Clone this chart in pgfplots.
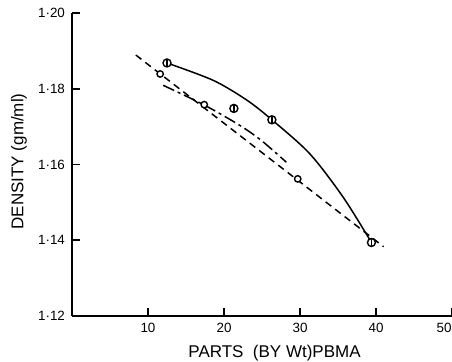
\documentclass[border=0pt]{standalone}
\usepackage{fontspec}
\setmainfont{Liberation Sans}
\usepackage{pgfplots}
\pgfplotsset{compat=1.18}
\usetikzlibrary{calc}
\pgfdeclareplotmark{theta}{%
  \pgfpathcircle{\pgfpointorigin}{\pgfplotmarksize}%
  \pgfusepathqfillstroke
  \pgfpathmoveto{\pgfqpoint{0pt}{-\pgfplotmarksize}}%
  \pgfpathlineto{\pgfqpoint{0pt}{\pgfplotmarksize}}%
  \pgfusepathqstroke}
\begin{document}
\begin{tikzpicture}
\begin{axis}[
  name=ax,
  scale only axis,
  width=190pt, height=151.5pt,
  xmin=0, xmax=50, ymin=1.12, ymax=1.20,
  axis x line*=bottom, axis y line*=left,
  axis line style={line width=1.1pt},
  xtick={10,20,30,40,50},
  xticklabels={10,20,30,40,\hspace*{-8pt}50},
  ytick={1.12,1.14,1.16,1.18,1.20},
  yticklabels={1{\textperiodcentered}12,1{\textperiodcentered}14,1{\textperiodcentered}16,1{\textperiodcentered}18,1{\textperiodcentered}20},
  tick align=inside,
  major tick length=4pt,
  tick style={line width=0.8pt, black},
  minor tick num=0,
  tick label style={font=\fontsize{6.7}{7}\selectfont},
  xlabel={PARTS\ \ (BY Wt)PBMA},
  ylabel={DENSITY (gm/ml)},
  label style={font=\fontsize{8.5}{9}\selectfont},
  xlabel style={at={(axis description cs:0.533,0)}, anchor=center, yshift=-18.5pt},
  ylabel style={at={(axis description cs:-0.1395,0.51)}, anchor=center},
  clip=false,
]
\addplot[black, line width=0.75pt, smooth] coordinates {
  (12.5,1.1868) (18.6,1.1822) (23.0,1.1770) (26.3,1.1718) (31.3,1.1628) (35.7,1.1513) (39.4,1.1394)
};
\addplot[black, line width=0.75pt, dash pattern=on 3.5pt off 2.5pt] coordinates {
  (8.4,1.1889) (41.0,1.1383)
};
\addplot[black, line width=0.75pt, smooth, dash pattern=on 6pt off 2pt on 1.5pt off 2pt] coordinates {
  (12.0,1.1809) (17.4,1.1757) (22.1,1.1703) (25.0,1.1662) (28.2,1.1606)
};
\addplot[only marks, mark=theta, mark size=2pt, mark options={fill=white, draw=black, line width=0.7pt}] coordinates {
  (12.5,1.1868) (21.3,1.1748) (26.3,1.1718) (39.4,1.1394)
};
\addplot[only marks, mark=*, mark size=1.6pt, mark options={fill=white, draw=black, line width=0.7pt}] coordinates {
  (11.6,1.1839) (17.4,1.1758) (29.7,1.1562)
};
\end{axis}
\pgfresetboundingbox
\path[use as bounding box] ($(ax.south west)+(-36pt,-23pt)$) rectangle ($(ax.north east)+(0pt,6.5pt)$);
\end{tikzpicture}
\end{document}
